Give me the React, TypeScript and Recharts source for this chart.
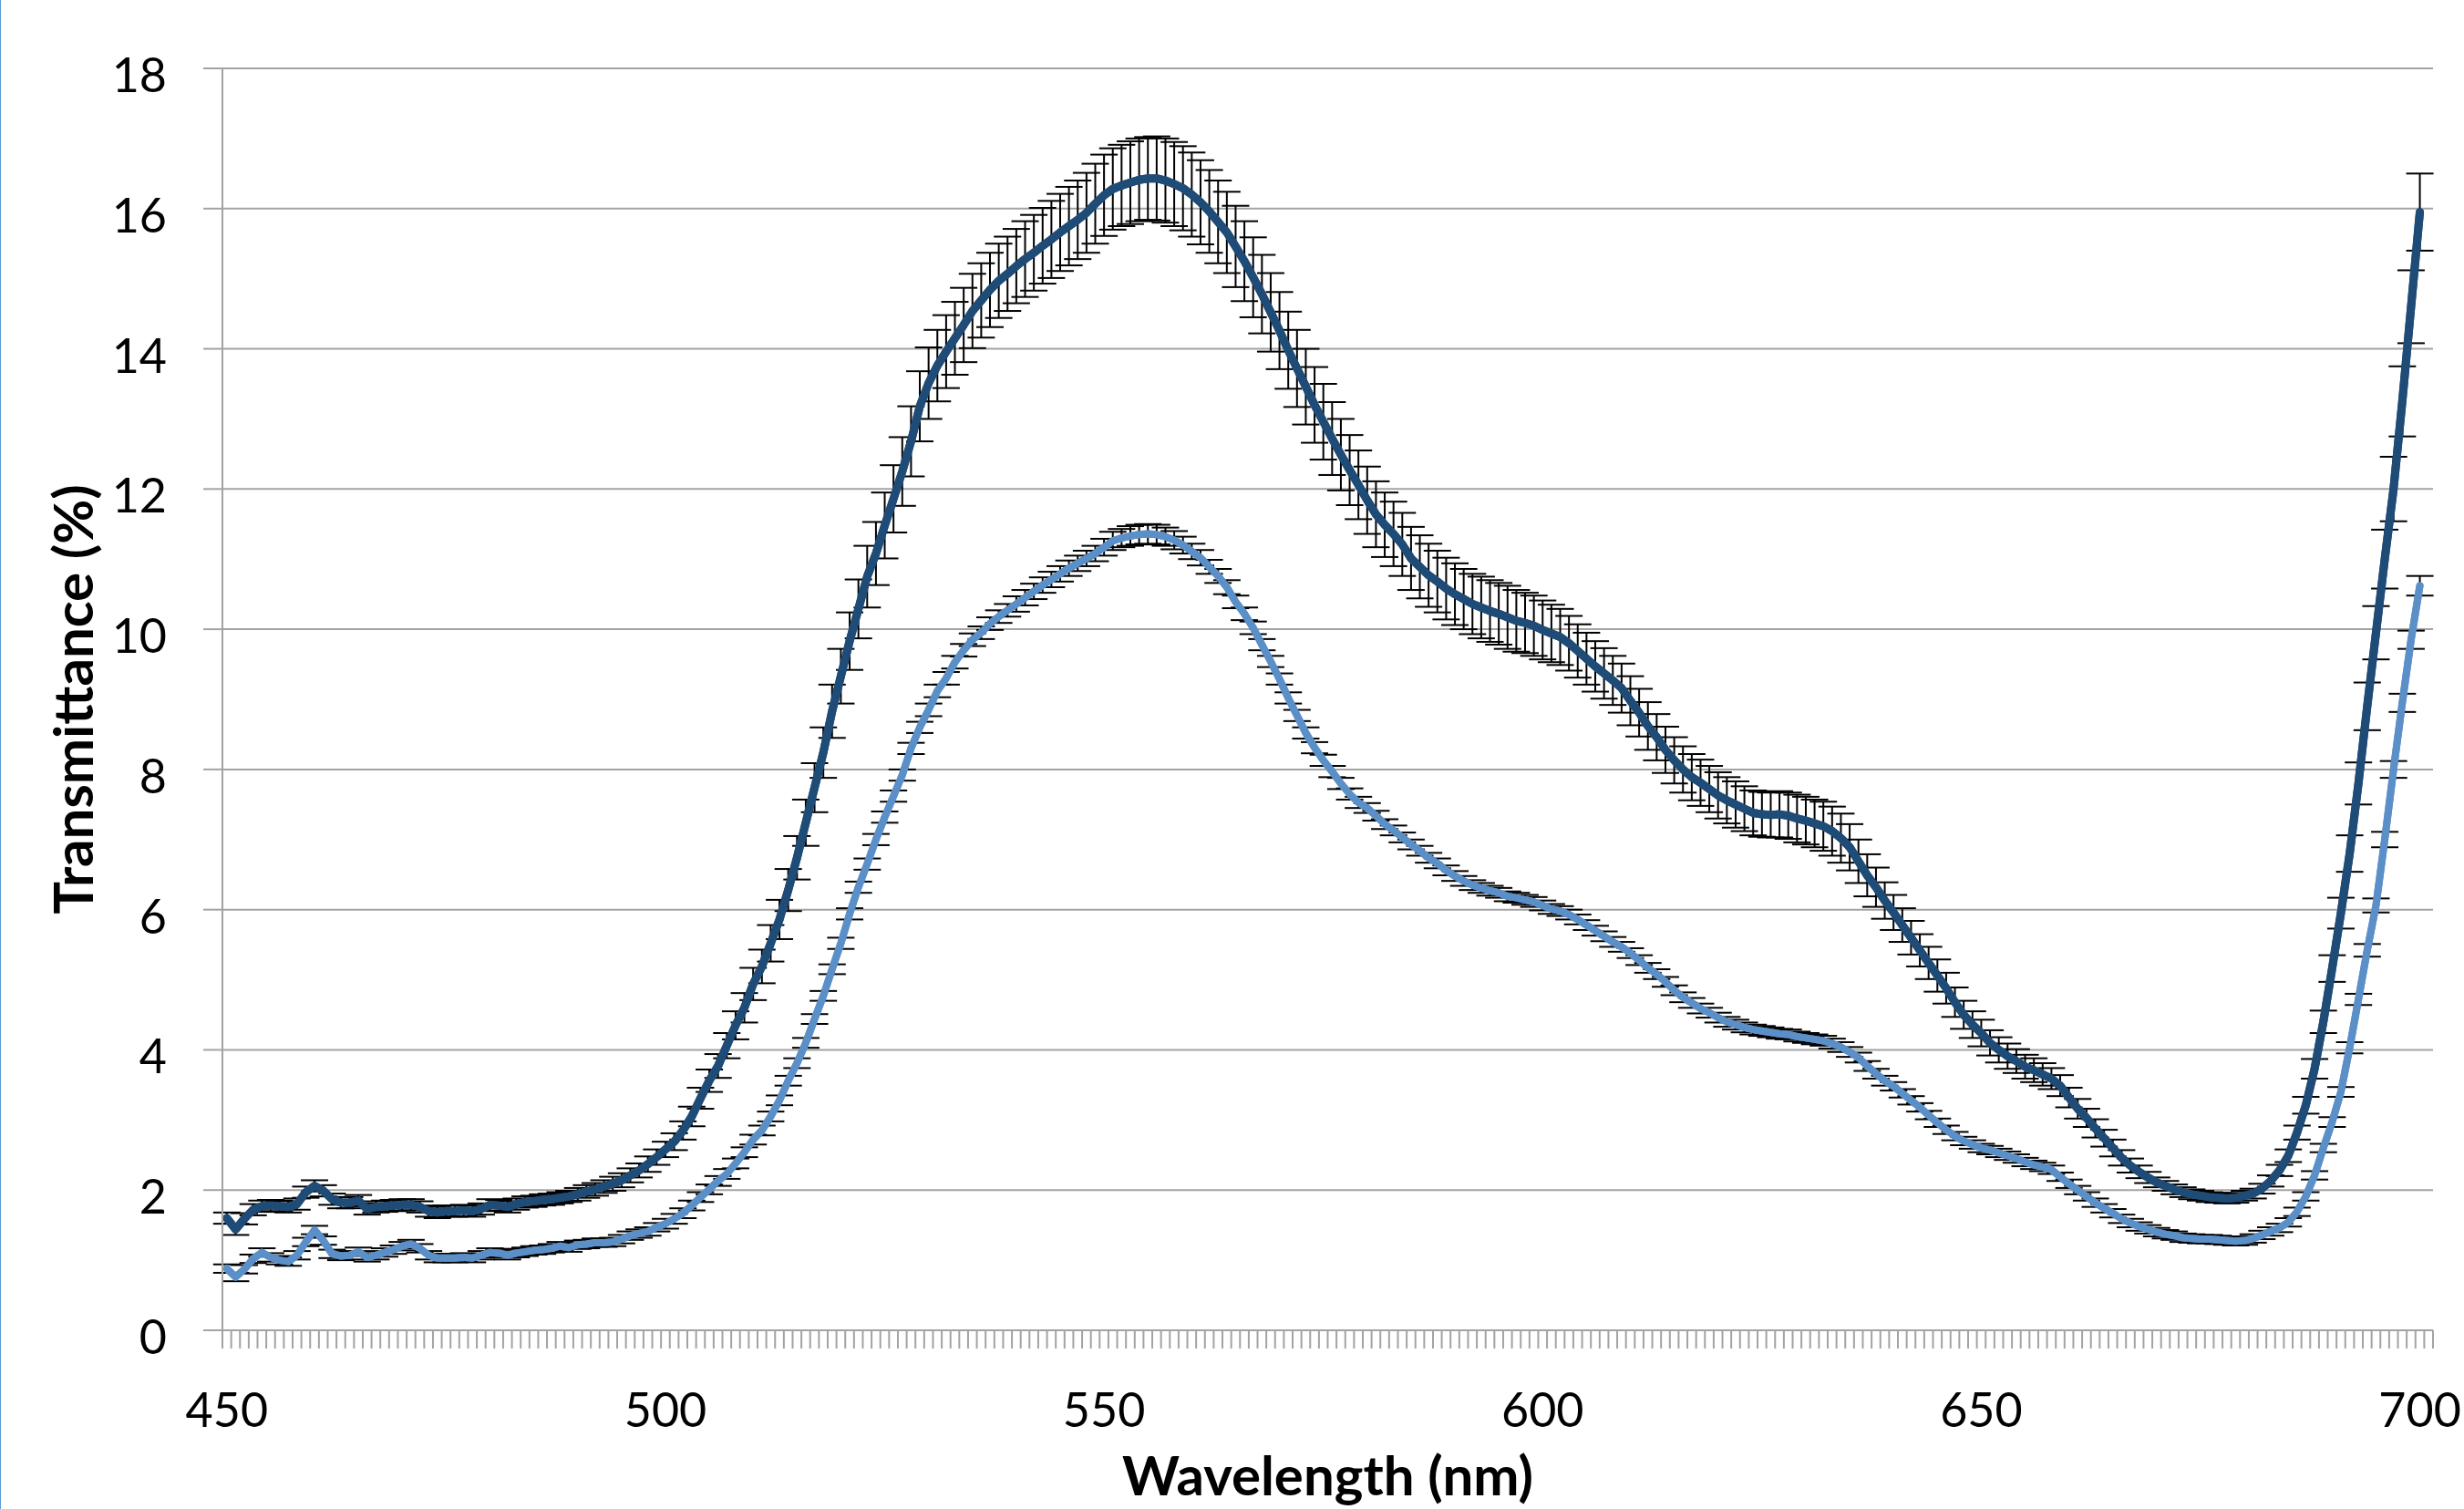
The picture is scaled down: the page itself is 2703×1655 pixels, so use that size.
import React from 'react';
import { LineChart, Line, XAxis, YAxis, CartesianGrid, ErrorBar } from 'recharts';

// wavelength categories, 1 nm steps (the sheet has one trailing empty category after 700)
const wavelengths = Array.from({ length: 252 }, (_, i) => 450 + i);

// upper curve (dark) – mean transmittance %
const darkMean = [
  1.60, 1.44, 1.59, 1.72, 1.77, 1.78, 1.77, 1.76, 1.80, 1.97,
  2.06, 1.99, 1.87, 1.82, 1.82, 1.85, 1.73, 1.76, 1.77, 1.78,
  1.79, 1.79, 1.76, 1.70, 1.68, 1.70, 1.70, 1.71, 1.70, 1.73,
  1.79, 1.78, 1.76, 1.80, 1.83, 1.84, 1.86, 1.87, 1.89, 1.91,
  1.94, 1.98, 2.01, 2.05, 2.09, 2.14, 2.21, 2.28, 2.37, 2.47,
  2.58, 2.69, 2.85, 3.05, 3.31, 3.56, 3.77, 4.06, 4.35, 4.60,
  4.94, 5.19, 5.52, 5.86, 6.28, 6.74, 7.24, 7.74, 8.24, 8.83,
  9.33, 9.83, 10.29, 10.75, 11.08, 11.48, 11.86, 12.25, 12.68, 13.18,
  13.51, 13.76, 13.96, 14.15, 14.34, 14.54, 14.69, 14.84, 14.97, 15.07,
  15.18, 15.28, 15.37, 15.47, 15.56, 15.66, 15.75, 15.84, 15.94, 16.07,
  16.19, 16.28, 16.33, 16.37, 16.41, 16.43, 16.43, 16.40, 16.35, 16.29,
  16.20, 16.09, 15.96, 15.81, 15.66, 15.46, 15.25, 15.02, 14.78, 14.52,
  14.26, 13.98, 13.72, 13.46, 13.20, 12.96, 12.72, 12.49, 12.27, 12.06,
  11.84, 11.64, 11.49, 11.36, 11.21, 11.01, 10.89, 10.77, 10.68, 10.58,
  10.50, 10.43, 10.36, 10.31, 10.26, 10.22, 10.17, 10.12, 10.09, 10.05,
  9.99, 9.94, 9.89, 9.80, 9.69, 9.58, 9.47, 9.37, 9.27, 9.16,
  8.98, 8.81, 8.62, 8.46, 8.28, 8.13, 8.00, 7.89, 7.81, 7.72,
  7.63, 7.56, 7.50, 7.44, 7.38, 7.36, 7.35, 7.36, 7.34, 7.30,
  7.27, 7.23, 7.19, 7.12, 7.02, 6.89, 6.69, 6.49, 6.32, 6.13,
  5.96, 5.78, 5.60, 5.42, 5.24, 5.06, 4.88, 4.68, 4.50, 4.36,
  4.24, 4.10, 4.00, 3.91, 3.84, 3.76, 3.71, 3.65, 3.59, 3.49,
  3.32, 3.16, 3.03, 2.88, 2.74, 2.60, 2.46, 2.35, 2.26, 2.18,
  2.11, 2.06, 2.01, 1.97, 1.94, 1.92, 1.90, 1.89, 1.88, 1.89,
  1.92, 1.95, 2.02, 2.13, 2.28, 2.49, 2.82, 3.21, 3.73, 4.40,
  5.16, 5.95, 6.80, 7.80, 8.90, 9.95, 11.00, 12.00, 13.25, 14.60,
  15.95,
];

const darkSd = [
  0.08, 0.08, 0.08, 0.08, 0.08, 0.08, 0.08, 0.08, 0.08, 0.08,
  0.08, 0.08, 0.08, 0.08, 0.08, 0.08, 0.08, 0.08, 0.08, 0.08,
  0.08, 0.08, 0.08, 0.08, 0.08, 0.08, 0.08, 0.08, 0.08, 0.08,
  0.08, 0.08, 0.08, 0.08, 0.08, 0.08, 0.08, 0.08, 0.08, 0.08,
  0.09, 0.09, 0.09, 0.09, 0.10, 0.10, 0.10, 0.10, 0.11, 0.11,
  0.11, 0.12, 0.13, 0.14, 0.15, 0.16, 0.17, 0.18, 0.20, 0.21,
  0.23, 0.24, 0.26, 0.28, 0.30, 0.31, 0.33, 0.35, 0.36, 0.38,
  0.39, 0.41, 0.42, 0.44, 0.45, 0.47, 0.48, 0.49, 0.50, 0.50,
  0.51, 0.51, 0.52, 0.52, 0.53, 0.53, 0.53, 0.53, 0.53, 0.53,
  0.53, 0.54, 0.54, 0.54, 0.55, 0.55, 0.56, 0.56, 0.57, 0.57,
  0.58, 0.58, 0.58, 0.59, 0.59, 0.59, 0.60, 0.60, 0.60, 0.60,
  0.60, 0.60, 0.59, 0.59, 0.58, 0.58, 0.57, 0.57, 0.56, 0.56,
  0.55, 0.55, 0.55, 0.54, 0.54, 0.54, 0.52, 0.51, 0.50, 0.49,
  0.48, 0.47, 0.46, 0.46, 0.45, 0.45, 0.45, 0.45, 0.44, 0.44,
  0.44, 0.43, 0.43, 0.44, 0.44, 0.44, 0.45, 0.44, 0.43, 0.43,
  0.42, 0.41, 0.40, 0.39, 0.38, 0.37, 0.36, 0.36, 0.35, 0.35,
  0.35, 0.34, 0.34, 0.33, 0.33, 0.33, 0.33, 0.33, 0.33, 0.33,
  0.33, 0.33, 0.33, 0.32, 0.32, 0.32, 0.32, 0.33, 0.33, 0.34,
  0.34, 0.34, 0.35, 0.35, 0.35, 0.33, 0.31, 0.30, 0.28, 0.26,
  0.25, 0.24, 0.24, 0.23, 0.23, 0.23, 0.22, 0.21, 0.20, 0.19,
  0.19, 0.18, 0.18, 0.18, 0.17, 0.17, 0.17, 0.16, 0.15, 0.15,
  0.14, 0.14, 0.13, 0.13, 0.12, 0.12, 0.11, 0.10, 0.09, 0.08,
  0.07, 0.07, 0.07, 0.07, 0.07, 0.07, 0.07, 0.07, 0.07, 0.07,
  0.07, 0.07, 0.07, 0.08, 0.08, 0.09, 0.10, 0.12, 0.14, 0.16,
  0.19, 0.22, 0.26, 0.30, 0.34, 0.38, 0.42, 0.46, 0.50, 0.52,
  0.55,
];

// lower curve (light) – mean transmittance %
const lightMean = [
  0.88, 0.76, 0.87, 1.02, 1.11, 1.04, 1.00, 0.98, 1.07, 1.26,
  1.43, 1.28, 1.09, 1.06, 1.07, 1.12, 1.04, 1.07, 1.11, 1.15,
  1.20, 1.23, 1.17, 1.07, 1.03, 1.03, 1.03, 1.04, 1.03, 1.07,
  1.11, 1.10, 1.07, 1.10, 1.12, 1.14, 1.15, 1.17, 1.20, 1.18,
  1.22, 1.23, 1.25, 1.25, 1.26, 1.30, 1.35, 1.38, 1.41, 1.47,
  1.52, 1.59, 1.67, 1.78, 1.90, 2.01, 2.13, 2.23, 2.38, 2.54,
  2.72, 2.85, 3.05, 3.28, 3.56, 3.81, 4.10, 4.44, 4.77, 5.15,
  5.52, 5.94, 6.32, 6.65, 7.00, 7.32, 7.62, 7.92, 8.30, 8.60,
  8.85, 9.12, 9.30, 9.53, 9.70, 9.85, 9.95, 10.08, 10.18, 10.27,
  10.36, 10.45, 10.54, 10.63, 10.71, 10.79, 10.87, 10.94, 11.01, 11.08,
  11.17, 11.26, 11.30, 11.33, 11.35, 11.36, 11.35, 11.32, 11.27, 11.20,
  11.11, 11.02, 10.89, 10.76, 10.60, 10.39, 10.22, 10.02, 9.78, 9.54,
  9.29, 9.02, 8.77, 8.52, 8.31, 8.13, 7.97, 7.80, 7.65, 7.53,
  7.45, 7.34, 7.22, 7.13, 7.03, 6.93, 6.84, 6.74, 6.66, 6.56,
  6.48, 6.41, 6.35, 6.31, 6.27, 6.24, 6.19, 6.17, 6.14, 6.11,
  6.06, 6.01, 5.98, 5.93, 5.86, 5.78, 5.70, 5.62, 5.54, 5.47,
  5.38, 5.28, 5.17, 5.08, 4.97, 4.85, 4.75, 4.67, 4.59, 4.53,
  4.46, 4.40, 4.36, 4.32, 4.29, 4.27, 4.25, 4.23, 4.22, 4.19,
  4.17, 4.15, 4.13, 4.09, 4.04, 3.97, 3.89, 3.77, 3.66, 3.56,
  3.48, 3.38, 3.28, 3.18, 3.07, 2.96, 2.86, 2.77, 2.70, 2.65,
  2.60, 2.57, 2.53, 2.49, 2.45, 2.40, 2.36, 2.33, 2.29, 2.19,
  2.09, 2.00, 1.91, 1.82, 1.74, 1.67, 1.59, 1.53, 1.48, 1.44,
  1.40, 1.37, 1.35, 1.32, 1.31, 1.30, 1.30, 1.29, 1.28, 1.27,
  1.28, 1.31, 1.36, 1.41, 1.46, 1.54, 1.69, 1.91, 2.21, 2.60,
  2.97, 3.40, 4.03, 4.72, 5.42, 6.06, 7.00, 8.00, 8.95, 9.85,
  10.62,
];

const lightSd = [
  0.06, 0.06, 0.06, 0.06, 0.06, 0.06, 0.06, 0.06, 0.06, 0.06,
  0.06, 0.06, 0.06, 0.06, 0.06, 0.06, 0.06, 0.06, 0.06, 0.06,
  0.06, 0.06, 0.06, 0.06, 0.06, 0.06, 0.06, 0.06, 0.06, 0.06,
  0.06, 0.06, 0.06, 0.06, 0.06, 0.06, 0.06, 0.06, 0.06, 0.06,
  0.06, 0.06, 0.06, 0.06, 0.06, 0.06, 0.06, 0.06, 0.06, 0.06,
  0.07, 0.07, 0.07, 0.07, 0.07, 0.07, 0.07, 0.07, 0.07, 0.07,
  0.07, 0.07, 0.07, 0.07, 0.07, 0.07, 0.07, 0.07, 0.07, 0.07,
  0.08, 0.08, 0.08, 0.08, 0.08, 0.08, 0.08, 0.08, 0.08, 0.08,
  0.09, 0.09, 0.09, 0.09, 0.09, 0.09, 0.09, 0.09, 0.09, 0.09,
  0.11, 0.11, 0.11, 0.11, 0.11, 0.11, 0.11, 0.11, 0.11, 0.11,
  0.12, 0.13, 0.13, 0.14, 0.14, 0.14, 0.14, 0.13, 0.13, 0.12,
  0.11, 0.11, 0.10, 0.10, 0.10, 0.09, 0.09, 0.09, 0.08, 0.08,
  0.08, 0.08, 0.08, 0.08, 0.08, 0.08, 0.08, 0.08, 0.08, 0.08,
  0.07, 0.07, 0.07, 0.07, 0.07, 0.07, 0.07, 0.07, 0.07, 0.07,
  0.07, 0.07, 0.07, 0.07, 0.07, 0.07, 0.07, 0.07, 0.07, 0.07,
  0.07, 0.07, 0.07, 0.07, 0.07, 0.07, 0.07, 0.07, 0.07, 0.07,
  0.07, 0.07, 0.07, 0.07, 0.07, 0.07, 0.07, 0.07, 0.07, 0.07,
  0.07, 0.07, 0.07, 0.07, 0.07, 0.07, 0.07, 0.07, 0.07, 0.07,
  0.07, 0.07, 0.07, 0.07, 0.07, 0.07, 0.07, 0.07, 0.07, 0.07,
  0.06, 0.06, 0.06, 0.06, 0.06, 0.06, 0.06, 0.06, 0.06, 0.06,
  0.06, 0.06, 0.06, 0.06, 0.06, 0.06, 0.06, 0.06, 0.06, 0.06,
  0.06, 0.06, 0.06, 0.06, 0.06, 0.06, 0.06, 0.06, 0.06, 0.06,
  0.06, 0.06, 0.06, 0.06, 0.06, 0.06, 0.06, 0.06, 0.06, 0.06,
  0.06, 0.06, 0.06, 0.06, 0.06, 0.06, 0.06, 0.06, 0.06, 0.06,
  0.07, 0.07, 0.08, 0.08, 0.09, 0.10, 0.11, 0.12, 0.13, 0.13,
  0.14,
];

const yTicks = [0, 2, 4, 6, 8, 10, 12, 14, 16, 18];
const xLabels = [450, 500, 550, 600, 650, 700];

const chartData = wavelengths.map((nm, i) => ({
  nm,
  dark: darkMean[i] ?? null,
  darkErr: darkSd[i] ?? null,
  light: lightMean[i] ?? null,
  lightErr: lightSd[i] ?? null,
}));

const W = 2703;
const H = 1655;
const PLOT_LEFT = 244;
const PLOT_RIGHT = 2669;
const BAND = (PLOT_RIGHT - PLOT_LEFT) / wavelengths.length;
const GREY = '#a3a3a3';
const DARK = '#1f4b77';
const LIGHT = '#5b8fc8';
const FONT = "Lato, 'Open Sans', sans-serif";

// excel style category ticks: mark between categories, label every 50 nm
const XTick = (props: any) => {
  const { x, y, payload, index } = props;
  const half = BAND / 2;
  const last = index === wavelengths.length - 1;
  return (
    <g>
      <line x1={x - half} y1={y} x2={x - half} y2={y + 20} stroke={GREY} strokeWidth={2} />
      {last && <line x1={x + half} y1={y} x2={x + half} y2={y + 20} stroke={GREY} strokeWidth={2} />}
      {xLabels.includes(payload.value) && (
        <text x={x} y={y + 106} textAnchor="middle" fontSize={52} fontFamily={FONT} fill="#000">
          {payload.value}
        </text>
      )}
    </g>
  );
};

const YTick = (props: any) => {
  const { x, y, payload } = props;
  return (
    <text x={x} y={y} dy={26} textAnchor="end" fontSize={52} fontFamily={FONT} fill="#000">
      {payload.value}
    </text>
  );
};

export default function App() {
  return (
    <div style={{ position: 'absolute', left: 0, top: 0, width: W, height: H, background: '#fff' }}>
      <div style={{ position: 'absolute', left: 0, top: 0, width: 1, height: H, background: '#5b9bd5' }} />
      <LineChart width={W} height={H} data={chartData} margin={{ top: 75, right: W - PLOT_RIGHT, bottom: 0, left: 0 }}>
        <CartesianGrid vertical={false} stroke={GREY} strokeWidth={2} />
        <XAxis
          dataKey="nm"
          type="category"
          interval={0}
          height={196}
          tickLine={false}
          tickSize={0}
          tickMargin={0}
          padding={{ left: BAND / 2, right: BAND / 2 }}
          axisLine={{ stroke: GREY, strokeWidth: 2 }}
          tick={<XTick />}
          label={{
            value: 'Wavelength (nm)',
            position: 'insideBottom',
            offset: 15,
            style: { fontFamily: FONT, fontSize: 60, fontWeight: 700, fill: '#000' },
          }}
        />
        <YAxis
          width={PLOT_LEFT}
          domain={[0, 18]}
          ticks={yTicks}
          interval={0}
          tickSize={21}
          tickMargin={40}
          tickLine={{ stroke: GREY, strokeWidth: 2 }}
          axisLine={{ stroke: GREY, strokeWidth: 2 }}
          tick={<YTick />}
          label={{
            value: 'Transmittance (%)',
            angle: -90,
            position: 'insideLeft',
            offset: 81,
            style: { textAnchor: 'middle', fontFamily: FONT, fontSize: 60, fontWeight: 700, fill: '#000' },
          }}
        />
        <Line type="linear" dataKey="light" stroke={LIGHT} strokeWidth={8} dot={false} activeDot={false}
          strokeLinecap="round" strokeLinejoin="round" isAnimationActive={false}>
          <ErrorBar dataKey="lightErr" direction="y" width={15} strokeWidth={2} stroke="#000" isAnimationActive={false} />
        </Line>
        <Line type="linear" dataKey="dark" stroke={DARK} strokeWidth={9} dot={false} activeDot={false}
          strokeLinecap="round" strokeLinejoin="round" isAnimationActive={false}>
          <ErrorBar dataKey="darkErr" direction="y" width={15} strokeWidth={2} stroke="#000" isAnimationActive={false} />
        </Line>
        {/* redraw the curves so they sit on top of their error bars */}
        <Line type="linear" dataKey="light" stroke={LIGHT} strokeWidth={8} dot={false} activeDot={false}
          strokeLinecap="round" strokeLinejoin="round" isAnimationActive={false} />
        <Line type="linear" dataKey="dark" stroke={DARK} strokeWidth={9} dot={false} activeDot={false}
          strokeLinecap="round" strokeLinejoin="round" isAnimationActive={false} />
      </LineChart>
    </div>
  );
}
